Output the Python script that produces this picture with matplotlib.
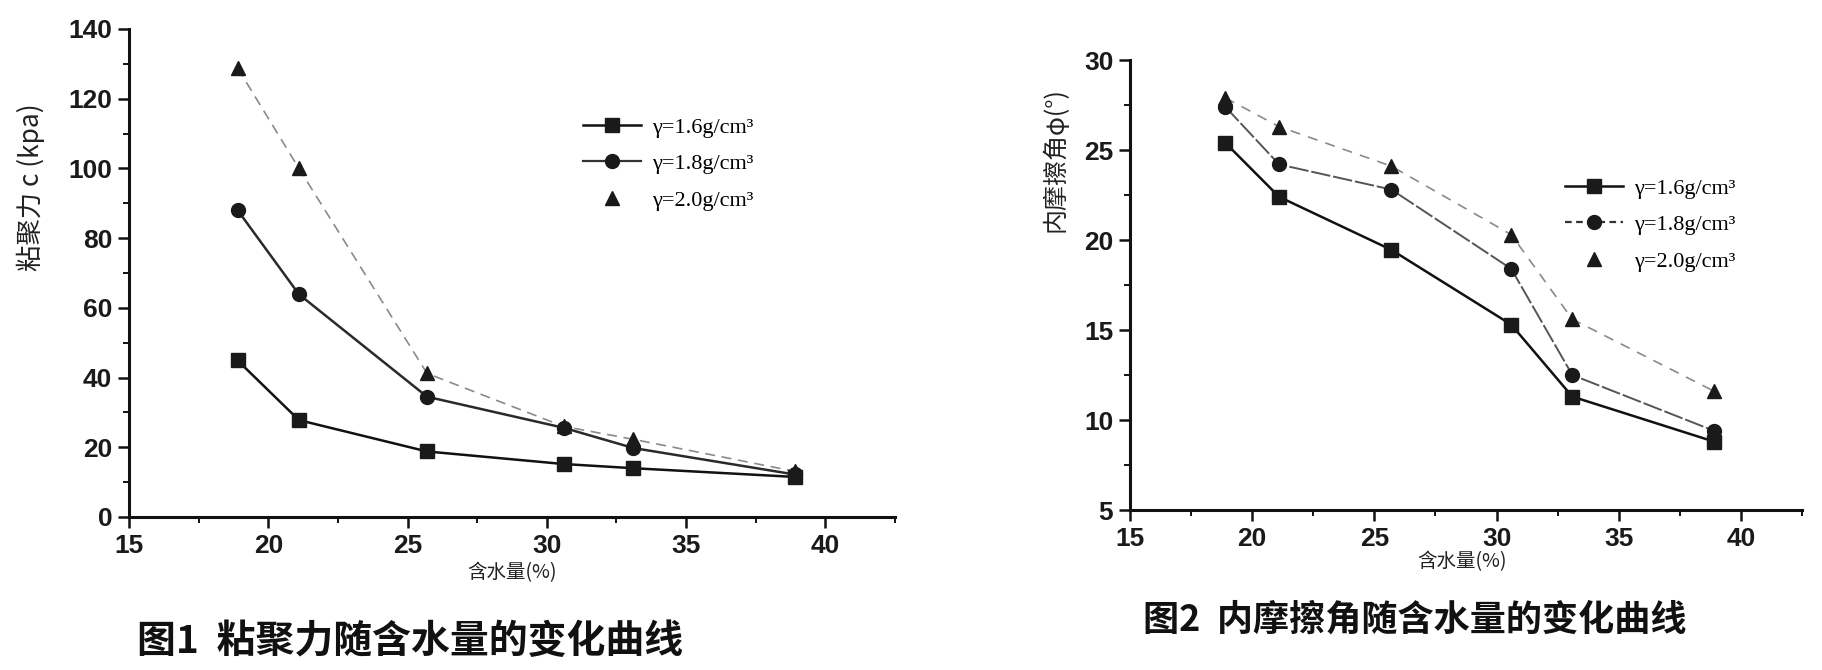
import matplotlib
matplotlib.use("Agg")
import matplotlib.pyplot as plt
from matplotlib.ticker import MultipleLocator
from matplotlib.lines import Line2D

plt.rcParams['font.family'] = ['Noto Sans CJK SC', 'DejaVu Sans']

# ---------------- data ----------------
water_content = [18.9, 21.1, 25.7, 30.6, 33.1, 38.9]
series_labels = ["γ=1.6g/cm³", "γ=1.8g/cm³", "γ=2.0g/cm³"]

cohesion_16 = [44.9, 27.8, 18.8, 15.2, 14.0, 11.5]
cohesion_18 = [88.0, 63.9, 34.5, 25.6, 19.8, 12.2]
cohesion_20 = [128.8, 100.0, 41.2, 26.0, 22.3, 13.1]

friction_16 = [25.4, 22.4, 19.45, 15.3, 11.3, 8.8]
friction_18 = [27.4, 24.2, 22.8, 18.4, 12.5, 9.4]
friction_20 = [27.9, 26.3, 24.1, 20.3, 15.6, 11.6]

left_xticks = [15, 20, 25, 30, 35, 40]
left_yticks = [0, 20, 40, 60, 80, 100, 120, 140]
right_yticks = [5, 10, 15, 20, 25, 30]

# ---------------- figure ----------------
W, H = 1822, 670
fig = plt.figure(figsize=(W / 100, H / 100), dpi=100)
fig.patch.set_facecolor('white')


def fx(px):
    return px / W


def fy(py):
    return 1 - py / H


tick_font = dict(family=['Liberation Sans', 'DejaVu Sans'], size=19, weight='bold')
MK = dict(ms=10, mfc='#1a1a1a', mec='#1a1a1a')


def style_axes(ax, ymajor, yminor):
    for s in ['top', 'right']:
        ax.spines[s].set_visible(False)
    for s in ['left', 'bottom']:
        ax.spines[s].set_linewidth(2.2)
        ax.spines[s].set_color('#111111')
    ax.xaxis.set_major_locator(MultipleLocator(5))
    ax.xaxis.set_minor_locator(MultipleLocator(2.5))
    ax.yaxis.set_major_locator(MultipleLocator(ymajor))
    ax.yaxis.set_minor_locator(MultipleLocator(yminor))
    ax.tick_params(which='major', direction='out', length=8, width=1.8,
                   color='#111111', pad=4)
    ax.tick_params(which='minor', direction='out', length=4, width=1.4,
                   color='#111111')
    for lab in ax.get_xticklabels() + ax.get_yticklabels():
        lab.set_fontfamily(tick_font['family'])
        lab.set_fontsize(tick_font['size'])
        lab.set_fontweight(tick_font['weight'])
        lab.set_color('#1a1a1a')


def legend_handles(circle_ls):
    return [
        Line2D([], [], color='#111111', lw=1.8, marker='s', **MK),
        Line2D([], [], color='#333333', lw=1.6, ls=circle_ls, marker='o', **MK),
        Line2D([], [], ls='none', marker='^', **MK),
    ]


leg_prop = dict(family=['Liberation Serif', 'DejaVu Serif'], size=16)

# ---------------- left chart ----------------
ax1 = fig.add_axes([fx(129), fy(517), fx(895 - 129), (517 - 29) / H])
ax1.plot(water_content, cohesion_16, color='#111111', lw=1.8, marker='s',
         zorder=4, **MK)
ax1.plot(water_content, cohesion_18, color='#2a2a2a', lw=1.8, marker='o',
         zorder=3, **MK)
ax1.plot(water_content, cohesion_20, color='#8a8a8a', lw=1.2, ls=(0, (6, 4)),
         marker='^', zorder=2, **MK)
ax1.set_xlim(15, 42.5)
ax1.set_ylim(0, 140)
ax1.set_xticks(left_xticks)
ax1.set_yticks(left_yticks)
style_axes(ax1, 20, 10)

ax1.legend(legend_handles('-'), series_labels, loc='upper left',
           bbox_to_anchor=(fx(563), fy(97)), bbox_transform=fig.transFigure,
           frameon=False, prop=leg_prop, handlelength=2.6, labelspacing=0.72,
           handletextpad=0.5)

fig.text(fx(512), fy(573), "含水量(%)", ha='center', va='center',
         fontsize=14, color='#222222')
fig.text(fx(31), fy(187), "粘聚力 c (kpa)", ha='center', va='center',
         rotation=90, fontsize=19, color='#222222')
fig.text(fx(410), fy(641), "图1  粘聚力随含水量的变化曲线", ha='center',
         va='center', fontsize=28, fontweight='bold', color='#111111')

# ---------------- right chart ----------------
ax2 = fig.add_axes([fx(1130), fy(510), fx(1802 - 1130), (510 - 60) / H])
ax2.plot(water_content, friction_16, color='#111111', lw=1.8, marker='s',
         zorder=4, **MK)
ax2.plot(water_content, friction_18, color='#555555', lw=1.4, ls=(0, (10, 1.5)),
         marker='o', zorder=3, **MK)
ax2.plot(water_content, friction_20, color='#8a8a8a', lw=1.2, ls=(0, (6, 5)),
         marker='^', zorder=2, **MK)
ax2.set_xlim(15, 42.5)
ax2.set_ylim(5, 30)
ax2.set_xticks(left_xticks)
ax2.set_yticks(right_yticks)
style_axes(ax2, 5, 2.5)

ax2.legend(legend_handles((0, (3, 2))), series_labels, loc='upper left',
           bbox_to_anchor=(fx(1545), fy(158)), bbox_transform=fig.transFigure,
           frameon=False, prop=leg_prop, handlelength=2.6, labelspacing=0.72,
           handletextpad=0.5)

fig.text(fx(1462), fy(562), "含水量(%)", ha='center', va='center',
         fontsize=14, color='#222222')
fig.text(fx(1055), fy(160), "内摩擦角φ(°)", ha='center', va='center',
         rotation=90, fontsize=18, color='#222222')
fig.text(fx(1415), fy(620), "图2  内摩擦角随含水量的变化曲线", ha='center',
         va='center', fontsize=26, fontweight='bold', color='#111111')

fig.savefig("out.png", dpi=100, facecolor='white')
